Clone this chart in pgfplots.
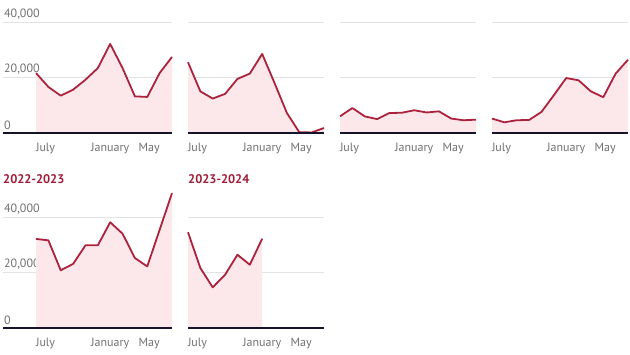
\documentclass[border=0pt]{standalone}
\usepackage{pgfplots}
\pgfplotsset{compat=1.18}
\usepackage{fontspec}
\setmainfont{PT Sans}
\definecolor{linecol}{RGB}{172,34,60}
\definecolor{fillcol}{RGB}{252,232,235}
\definecolor{basecol}{RGB}{22,18,42}
\definecolor{gridcol}{RGB}{226,226,226}
\definecolor{labcol}{RGB}{112,112,112}
\definecolor{titlecol}{RGB}{160,28,55}
\pgfplotsset{
  panel/.style={
    scale only axis,
    width=136pt, height=138.75pt,
    xmin=0, xmax=11, ymin=0, ymax=50000,
    anchor=south west,
    axis line style={draw=none},
    major tick length=0pt,
    scaled y ticks=false,
    ytick={0,20000,40000},
    yticklabels={},
    ymajorgrids,
    major grid style={gridcol, line width=0.8pt},
    xtick={0,6,10},
    xticklabels={\makebox[0pt][l]{July},\makebox[0pt][c]{January},\makebox[0pt][r]{May}},
    xticklabel style={font=\fontsize{12}{12}\selectfont, text=labcol, anchor=north, yshift=-7pt},
    yticklabel style={font=\fontsize{12}{12}\selectfont, text=labcol, anchor=south west, inner sep=1pt, yshift=2pt},
    clip=false,
  },
  first/.style={xmin=-2.67, width=169pt, yticklabels={0,{20,000},{40,000}}},
  area/.style={draw=none, fill=fillcol},
  ln/.style={linecol, line width=1.8pt, line join=round},
}
\newcommand{\basel}{\draw[basecol, line width=2pt] (rel axis cs:0,0) -- (rel axis cs:1,0);}
\begin{document}
\begin{tikzpicture}
\path[use as bounding box] (0,0) rectangle (630pt,354pt);
% Panel 1
\begin{axis}[panel, first, at={(3pt,221pt)}]
\addplot[area] coordinates {(0,21600)(1,16600)(2,13450)(3,15600)(4,19200)(5,23400)(6,32100)(7,23400)(8,13200)(9,13000)(10,21600)(11,27400)} \closedcycle;
\addplot[ln] coordinates {(0,21600)(1,16600)(2,13450)(3,15600)(4,19200)(5,23400)(6,32100)(7,23400)(8,13200)(9,13000)(10,21600)(11,27400)};
\basel
\end{axis}
% Panel 2
\begin{axis}[panel, at={(188pt,221pt)}]
\addplot[area] coordinates {(0,25500)(1,15000)(2,12400)(3,14100)(4,19500)(5,21400)(6,28500)(7,18000)(8,7200)(9,300)(10,200)(11,1800)} \closedcycle;
\addplot[ln] coordinates {(0,25500)(1,15000)(2,12400)(3,14100)(4,19500)(5,21400)(6,28500)(7,18000)(8,7200)(9,300)(10,200)(11,1800)};
\basel
\end{axis}
% Panel 3
\begin{axis}[panel, at={(340pt,221pt)}]
\addplot[area] coordinates {(0,6000)(1,9000)(2,6000)(3,5000)(4,7200)(5,7300)(6,8200)(7,7400)(8,7800)(9,5200)(10,4600)(11,4800)} \closedcycle;
\addplot[ln] coordinates {(0,6000)(1,9000)(2,6000)(3,5000)(4,7200)(5,7300)(6,8200)(7,7400)(8,7800)(9,5200)(10,4600)(11,4800)};
\basel
\end{axis}
% Panel 4
\begin{axis}[panel, at={(492pt,221pt)}]
\addplot[area] coordinates {(0,5200)(1,3850)(2,4600)(3,4700)(4,7600)(5,13600)(6,19800)(7,19000)(8,15000)(9,12900)(10,21400)(11,26400)} \closedcycle;
\addplot[ln] coordinates {(0,5200)(1,3850)(2,4600)(3,4700)(4,7600)(5,13600)(6,19800)(7,19000)(8,15000)(9,12900)(10,21400)(11,26400)};
\basel
\end{axis}
% Panel 5
\begin{axis}[panel, first, at={(3pt,26pt)}]
\addplot[area] coordinates {(0,32100)(1,31600)(2,20800)(3,23100)(4,29800)(5,29800)(6,38100)(7,34000)(8,25200)(9,22200)(10,35400)(11,48600)} \closedcycle;
\addplot[ln] coordinates {(0,32100)(1,31600)(2,20800)(3,23100)(4,29800)(5,29800)(6,38100)(7,34000)(8,25200)(9,22200)(10,35400)(11,48600)};
\basel
\end{axis}
% Panel 6
\begin{axis}[panel, at={(188pt,26pt)}]
\addplot[area] coordinates {(0,34500)(1,21600)(2,14650)(3,19200)(4,26400)(5,22800)(6,32200)} \closedcycle;
\addplot[ln] coordinates {(0,34500)(1,21600)(2,14650)(3,19200)(4,26400)(5,22800)(6,32200)};
\basel
\end{axis}
\node[anchor=base west, inner sep=0pt, text=titlecol, font=\fontsize{12.5}{13}\selectfont\bfseries] at (3pt,170pt) {2022-2023};
\node[anchor=base west, inner sep=0pt, text=titlecol, font=\fontsize{12.5}{13}\selectfont\bfseries] at (188pt,170pt) {2023-2024};
\end{tikzpicture}
\end{document}
